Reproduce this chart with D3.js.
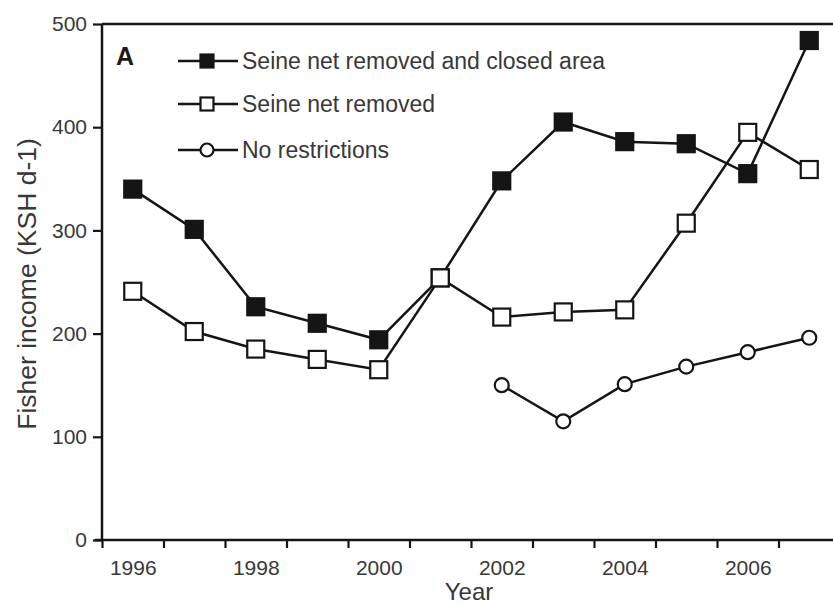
<!DOCTYPE html>
<html><head><meta charset="utf-8">
<script src="https://cdn.jsdelivr.net/npm/d3@7"></script>
<style>body{margin:0;background:#fff}svg{display:block}text{font-family:"Liberation Sans",Arial,sans-serif;fill:#383838}</style>
</head><body><svg id="c" width="833" height="606"></svg>
<script>
const years = [1996,1997,1998,1999,2000,2001,2002,2003,2004,2005,2006,2007];
const closedArea = [340,301,226,210,194,254,348,405,386,384,355,484];
const seineRemoved = [241,202,185,175,165,254,216,221,223,307,395,359];
const noRestrYears = [2002,2003,2004,2005,2006,2007];
const noRestr = [150,115,151,168,182,196];
const yTicks = [0,100,200,300,400,500];
const xLabelYears = [1996,1998,2000,2002,2004,2006];
const legendLabels = ["Seine net removed and closed area","Seine net removed","No restrictions"];

const svg = d3.select("#c");
const x = d3.scaleLinear().domain([1995.5,2007.5]).range([102,840]);
const y = d3.scaleLinear().domain([0,500]).range([540,24]);
const ink = "#151515";
const boundaries = years.map(d => d - 0.5);

// axes
const ya = svg.append("g").attr("transform","translate(102,0)")
  .call(d3.axisLeft(y).tickValues(yTicks).tickSize(9).tickPadding(6).tickFormat(d3.format("d")));
const xa = svg.append("g").attr("transform","translate(0,540)")
  .call(d3.axisBottom(x).tickValues(boundaries).tickSize(8).tickFormat(""));
const xl = svg.append("g").attr("transform","translate(0,540)")
  .call(d3.axisBottom(x).tickValues(xLabelYears).tickSize(0).tickPadding(20).tickFormat(d3.format("d")));
xl.select(".domain").remove();
[ya,xa,xl].forEach(g=>{
  g.select(".domain").attr("stroke",ink).attr("stroke-width",2.5);
  g.selectAll(".tick line").attr("stroke",ink).attr("stroke-width",2.2);
  g.selectAll("text").style("font-size","21px").style("fill","#383838");
});
ya.select(".domain").attr("d","M0,540V24");
xa.select(".domain").attr("d","M95,0H840");
// top frame line
svg.append("line").attr("x1",x.range()[0]).attr("x2",x.range()[1]).attr("y1",y(500)).attr("y2",y(500))
  .attr("stroke",ink).attr("stroke-width",2.5);

// titles
svg.append("text").attr("x",469).attr("y",600).attr("text-anchor","middle").style("font-size","24px").text("Year");
svg.append("text").attr("transform","translate(36,284) rotate(-90)").attr("text-anchor","middle")
  .style("font-size","26.5px").text("Fisher income (KSH d-1)");
svg.append("text").attr("x",116).attr("y",65).style("font-size","25px").style("font-weight","bold").style("fill","#1a1a1a").text("A");

const line = d3.line().x(d=>x(d[0])).y(d=>y(d[1]));
const S = 17;
function drawSeries(xs, vs, shape, fill){
  const pts = xs.map((d,i)=>[d,vs[i]]);
  svg.append("path").datum(pts).attr("d",line).attr("fill","none").attr("stroke",ink).attr("stroke-width",2.5);
  const g = svg.append("g");
  if(shape==="square"){
    g.selectAll("rect").data(pts).join("rect")
      .attr("x",d=>x(d[0])-S/2).attr("y",d=>y(d[1])-S/2).attr("width",S).attr("height",S)
      .attr("fill",fill).attr("stroke",ink).attr("stroke-width",2.2);
  } else {
    g.selectAll("circle").data(pts).join("circle")
      .attr("cx",d=>x(d[0])).attr("cy",d=>y(d[1])).attr("r",7)
      .attr("fill",fill).attr("stroke",ink).attr("stroke-width",2.2);
  }
}
drawSeries(years, closedArea, "square", ink);
drawSeries(years, seineRemoved, "square", "#fff");
drawSeries(noRestrYears, noRestr, "circle", "#fff");

// legend
const legY = [61,104,150];
const shapes = [["square",ink],["square","#fff"],["circle","#fff"]];
legendLabels.forEach((t,i)=>{
  const g = svg.append("g").attr("transform",`translate(0,${legY[i]})`);
  g.append("line").attr("x1",178).attr("x2",238).attr("y1",0).attr("y2",0).attr("stroke",ink).attr("stroke-width",2.5);
  if(shapes[i][0]==="square"){
    const s = 13;
    g.append("rect").attr("x",207-s/2).attr("y",-s/2).attr("width",s).attr("height",s)
      .attr("fill",shapes[i][1]).attr("stroke",ink).attr("stroke-width",2.2);
  } else {
    g.append("circle").attr("cx",207).attr("cy",0).attr("r",6.5).attr("fill","#fff").attr("stroke",ink).attr("stroke-width",2.2);
  }
  g.append("text").attr("x",242).attr("y",7.5).style("font-size","23px").text(t);
});
</script></body></html>
